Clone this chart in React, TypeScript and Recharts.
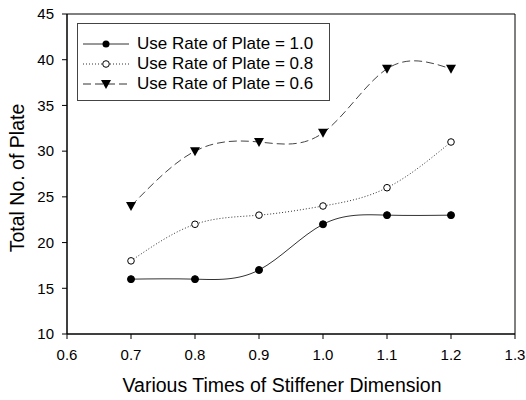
import React from 'react';
import { LineChart, Line, XAxis, YAxis, ReferenceArea } from 'recharts';

// chart values
const stiffenerTimes = [0.7, 0.8, 0.9, 1.0, 1.1, 1.2];
const useRate10 = [16, 16, 17, 22, 23, 23];
const useRate08 = [18, 22, 23, 24, 26, 31];
const useRate06 = [24, 30, 31, 32, 39, 39];
const xTicks = [0.6, 0.7, 0.8, 0.9, 1.0, 1.1, 1.2, 1.3];
const yTicks = [10, 15, 20, 25, 30, 35, 40, 45];

const chartData = stiffenerTimes.map((t, i) => ({
    times: t,
    r10: useRate10[i],
    r08: useRate08[i],
    r06: useRate06[i],
}));

const FONT = '"Liberation Sans", Arial, sans-serif';

const FilledDot = (props: any) => {
    const { cx, cy } = props;
    return <circle cx={cx} cy={cy} r={3.5} fill="#000" stroke="#000" />;
};

const OpenDot = (props: any) => {
    const { cx, cy } = props;
    return <circle cx={cx} cy={cy} r={3.3} fill="#fff" stroke="#000" strokeWidth={1} />;
};

const TriangleDot = (props: any) => {
    const { cx, cy } = props;
    return <path d={`M${cx - 5},${cy - 4} L${cx + 5},${cy - 4} L${cx},${cy + 5} Z`} fill="#000" />;
};

const legendRows = [
    { label: 'Use Rate of Plate = 1.0', dash: undefined, marker: 'filled' },
    { label: 'Use Rate of Plate = 0.8', dash: '1 2', marker: 'open' },
    { label: 'Use Rate of Plate = 0.6', dash: '8 4', marker: 'tri' },
];

// legend box sits over the top-left of the plot, like the original
const LegendBox = () => (
    <div style={{ position: 'absolute', left: 77, top: 23, width: 253, height: 78, border: '1px solid #444', padding: '10px 0 0 5px', boxSizing: 'border-box', background: '#fff', fontFamily: FONT, fontSize: 17 }}>
        {legendRows.map((row) => (
            <div key={row.label} style={{ display: 'flex', alignItems: 'center', height: 20, whiteSpace: 'nowrap' }}>
                <svg width={48} height={14} style={{ marginRight: 6 }}>
                    <line x1={0} y1={7} x2={46} y2={7} stroke="#333" strokeWidth={1} strokeDasharray={row.dash} />
                    {row.marker === 'filled' && <circle cx={23} cy={7} r={3.5} fill="#000" />}
                    {row.marker === 'open' && <circle cx={23} cy={7} r={3.3} fill="#fff" stroke="#000" />}
                    {row.marker === 'tri' && <path d="M18,3 L28,3 L23,12 Z" fill="#000" />}
                </svg>
                <span style={{ color: '#000' }}>{row.label}</span>
            </div>
        ))}
    </div>
);

export default function App() {
    const tickStyle = { fill: '#000', fontSize: 15, fontFamily: FONT };
    return (
        <div style={{ position: 'absolute', left: 0, top: 0, width: 526, height: 400, background: '#fff' }}>
            <LineChart width={526} height={400} data={chartData} margin={{ top: 14, right: 11, left: 0, bottom: 0 }}>
                <XAxis
                    dataKey="times"
                    type="number"
                    domain={[0.6, 1.3]}
                    ticks={xTicks}
                    tickFormatter={(v: number) => v.toFixed(1)}
                    tick={tickStyle}
                    stroke="#000"
                    tickSize={5}
                    tickMargin={10}
                    height={66}
                    label={{ value: 'Various Times of Stiffener Dimension', position: 'insideBottom', offset: 8, dx: -9, style: { fill: '#000', fontSize: 19.5, fontFamily: FONT } }}
                />
                <YAxis
                    type="number"
                    domain={[10, 45]}
                    ticks={yTicks}
                    tick={tickStyle}
                    stroke="#000"
                    tickSize={5}
                    tickMargin={8}
                    width={67}
                    label={{ value: 'Total No. of Plate', angle: -90, position: 'insideLeft', offset: 17, dy: 4, style: { fill: '#000', fontSize: 19.5, fontFamily: FONT, textAnchor: 'middle' } }}
                />
                <ReferenceArea x1={0.6} x2={1.3} y1={10} y2={45} fill="none" stroke="#000" strokeWidth={1} />
                <Line type="natural" dataKey="r10" stroke="#333" strokeWidth={1} dot={<FilledDot />} isAnimationActive={false} />
                <Line type="natural" dataKey="r08" stroke="#333" strokeWidth={1} strokeDasharray="1 2" dot={<OpenDot />} isAnimationActive={false} />
                <Line type="natural" dataKey="r06" stroke="#444" strokeWidth={1} strokeDasharray="8 4" dot={<TriangleDot />} isAnimationActive={false} />
            </LineChart>
            <LegendBox />
        </div>
    );
}
